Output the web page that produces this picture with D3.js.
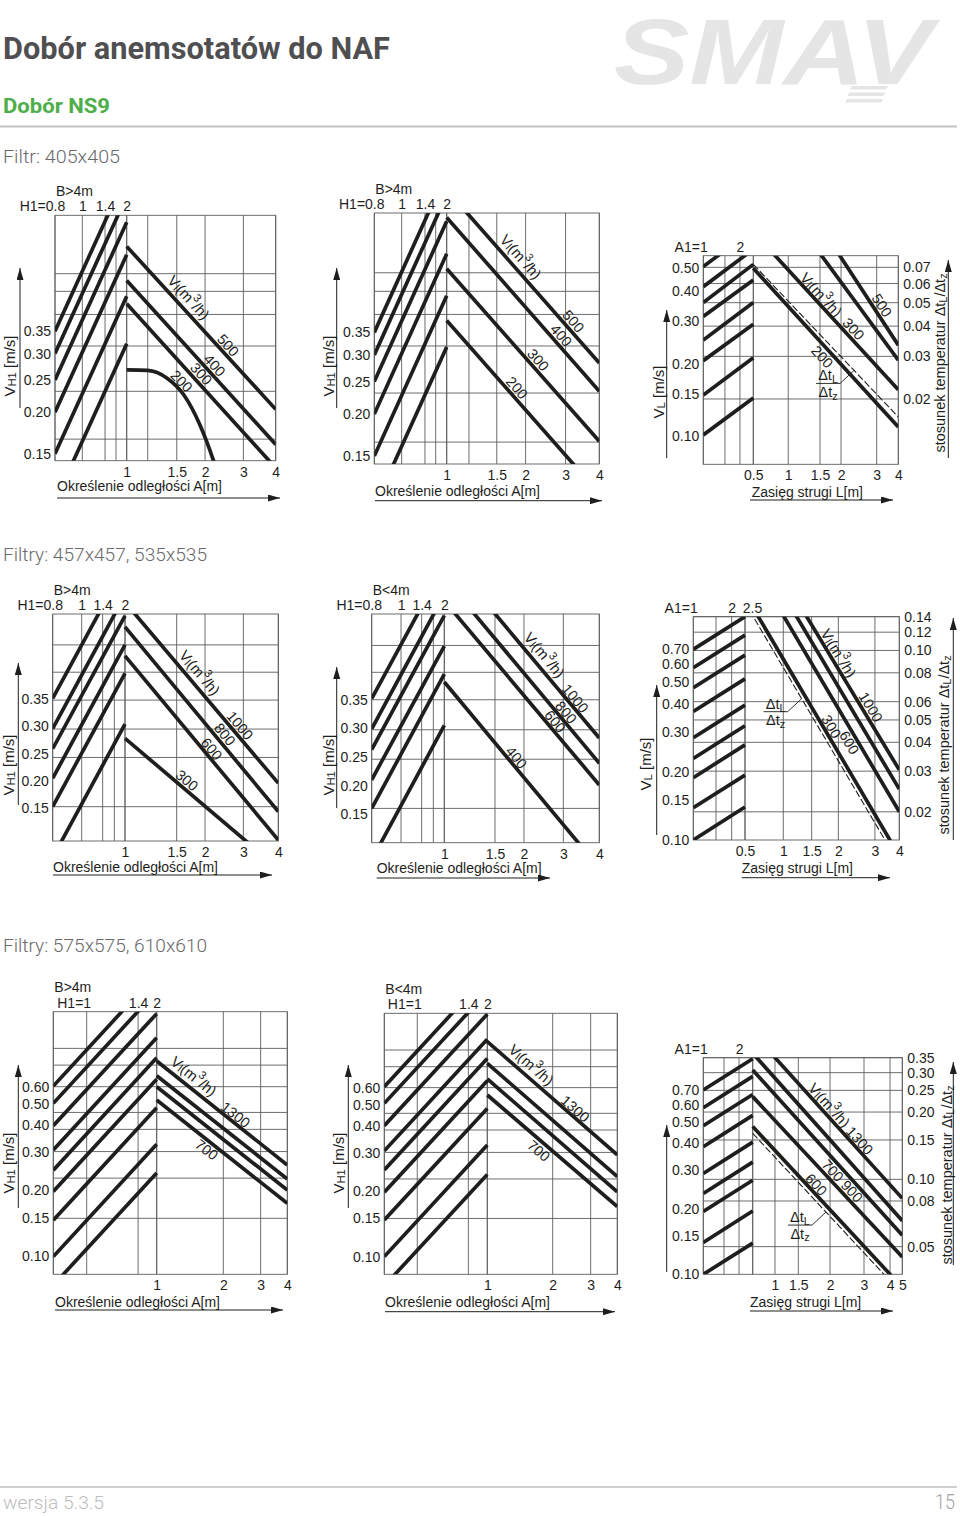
<!DOCTYPE html>
<html lang="pl"><head><meta charset="utf-8"><title>Dobór NS9</title>
<script src="https://cdn.jsdelivr.net/npm/d3@7/dist/d3.min.js"></script>
<style>html,body{margin:0;padding:0;background:#fff}svg{display:block}</style>
</head><body>
<svg id="page" width="960" height="1516" viewBox="0 0 960 1516"></svg>
<script>
// ================= DATA =================
// ---- Panel 1 : Filtr 405x405, B>4m
const p1H1Grid = [0.8, 1, 1.4, 1.7, 2];
const p1H1Labels = [0.8, 1, 1.4, 2];
const p1AGrid = [1, 1.2, 1.5, 2, 3, 4];
const p1ALabels = [1, 1.5, 2, 3, 4];
const p1VTicks = [0.35, 0.30, 0.25, 0.20, 0.15];
const p1VGrid = [0.521, 0.461, 0.393, 0.316, 0.231, 0.166];
const p1H1Start = [0.35, 0.30, 0.25, 0.20, 0.15, 0.108];
const p1H1End = [1.04, 0.891, 0.743, 0.594, 0.446, 0.321];
const p1Flow = ["500", "400", "300"];
const p1FlowAt1 = [0.629, 0.497, 0.423];
const p1FlowAt4 = [0.204, 0.160, 0.136];
const p1CurveFlow = "200";
const p1CurveA = [1, 1.2, 1.4, 1.62, 1.91, 2.22, 2.30];
const p1CurveV = [0.268, 0.267, 0.253, 0.226, 0.183, 0.143, 0.134];

// ---- Panel 2 : Filtr 405x405, B>4m (second)
const p2H1Grid = [0.8, 1, 1.4, 1.7, 2];
const p2H1Labels = [0.8, 1, 1.4, 2];
const p2AGrid = [1, 1.2, 1.5, 2, 3, 4];
const p2ALabels = [1, 1.5, 2, 3, 4];
const p2VTicks = [0.35, 0.30, 0.25, 0.20, 0.15];
const p2VGrid = [0.527, 0.464, 0.396, 0.319, 0.231, 0.165];
const p2H1Start = [0.35, 0.30, 0.25, 0.20, 0.15, 0.106];
const p2H1End = [1.05, 0.90, 0.75, 0.60, 0.45, 0.317];
const p2Flow = ["500", "400", "300", "200"];
const p2FlowAt1 = [0.93, 0.77, 0.542, 0.38];
const p2FlowAt4 = [0.284, 0.234, 0.166, 0.116];

// ---- Panel 3 : Filtr 405x405, range L
const p3A1Grid = [1, 1.5, 2, 2.5];
const p3A1Labels = [1, 2];
const p3LGrid = [0.5, 1, 1.5, 2, 3, 4];
const p3LLabels = [0.5, 1, 1.5, 2, 3, 4];
const p3VTicks = [0.50, 0.40, 0.30, 0.20, 0.15, 0.10];
const p3RatioTicks = [0.07, 0.06, 0.05, 0.04, 0.03, 0.02];
const p3A1Start = [0.508, 0.419, 0.360, 0.315, 0.251, 0.206, 0.148, 0.101];
const p3A1End = [0.727, 0.600, 0.519, 0.447, 0.360, 0.292, 0.212, 0.144];
const p3Flow = ["200", "300", "400", "500"];
const p3FlowAtStart = [0.50, 0.709, 1.377, 2.01];
const p3FlowAtEnd = [0.109, 0.156, 0.207, 0.239];
const p3DtStart = 0.519, p3DtEnd = 0.120;

// ---- Panel 4 : Filtry 457x457, 535x535, B>4m
const p4H1Grid = [0.8, 1, 1.4, 1.7, 2];
const p4H1Labels = [0.8, 1, 1.4, 2];
const p4AGrid = [1, 1.5, 2, 3, 4];
const p4ALabels = [1, 1.5, 2, 3, 4];
const p4VTicks = [0.35, 0.30, 0.25, 0.20, 0.15];
const p4VGrid = [0.449, 0.399, 0.348, 0.295, 0.243, 0.153];
const p4H1Start = [0.351, 0.296, 0.259, 0.205, 0.153, 0.060];
const p4H1End = [0.595, 0.540, 0.502, 0.449, 0.397, 0.304];
const p4Flow = ["1000", "800", "600", "300"];
const p4FlowAt1 = [0.527, 0.482, 0.429, 0.278];
const p4FlowAt4 = [0.196, 0.144, 0.092, 0.040];

// ---- Panel 5 : Filtry 457x457, 535x535, B<4m
const p5H1Grid = [0.8, 1, 1.4, 1.7, 2];
const p5H1Labels = [0.8, 1, 1.4, 2];
const p5AGrid = [1, 1.5, 2, 3, 4];
const p5ALabels = [1, 1.5, 2, 3, 4];
const p5VTicks = [0.35, 0.30, 0.25, 0.20, 0.15];
const p5VGrid = [0.445, 0.398, 0.350, 0.2975, 0.246, 0.160];
const p5H1Start = [0.352, 0.299, 0.263, 0.210, 0.160, 0.070];
const p5H1End = [0.586, 0.534, 0.497, 0.444, 0.395, 0.305];
const p5Flow = ["1000", "800", "600", "400"];
const p5FlowAt1 = [0.606, 0.563, 0.523, 0.381];
const p5FlowAt4 = [0.283, 0.239, 0.201, 0.056];

// ---- Panel 6 : Filtry 457x457, 535x535, range L
const p6A1Grid = [1, 1.5, 2, 2.5];
const p6A1Labels = [1, 2, 2.5];
const p6LGrid = [0.5, 1, 1.5, 2, 3, 4];
const p6LLabels = [0.5, 1, 1.5, 2, 3, 4];
const p6VTicks = [0.70, 0.60, 0.50, 0.40, 0.30, 0.20, 0.15, 0.10];
const p6RatioTicks = [0.14, 0.12, 0.10, 0.08, 0.06, 0.05, 0.04, 0.03, 0.02];
const p6A1Start = [0.700, 0.580, 0.473, 0.371, 0.284, 0.230, 0.189, 0.139, 0.100];
const p6A1End = [0.977, 0.810, 0.660, 0.518, 0.396, 0.321, 0.264, 0.194, 0.140];
const p6Flow = ["300", "600", "800", "1000"];
const p6FlowAtStart = [1.23, 1.916, 2.37, 2.77];
const p6FlowAtEnd = [0.085, 0.1335, 0.168, 0.2045];
const p6DtStart = 1.128, p6DtEnd = 0.078;

// ---- Panel 7 : Filtry 575x575, 610x610, B>4m
const p7H1Grid = [0.8, 1, 1.4, 2];
const p7H1Labels = [1, 1.4, 2];
const p7AGrid = [1, 2, 3, 4];
const p7ALabels = [1, 2, 3, 4];
const p7VTicks = [0.60, 0.50, 0.40, 0.30, 0.20, 0.15, 0.10];
const p7VGrid = [0.900, 0.754, 0.600, 0.457, 0.382, 0.302, 0.228, 0.149];
const p7H1Start = [0.604, 0.503, 0.397, 0.307, 0.248, 0.198, 0.146, 0.0994, 0.0734];
const p7H1End = [1.983, 1.650, 1.300, 1.007, 0.815, 0.649, 0.480, 0.326, 0.241];
const p7Flow = ["1300", "1100", "900", "700"];
const p7FlowAt1 = [0.787, 0.674, 0.600, 0.521];
const p7FlowAt4 = [0.262, 0.226, 0.201, 0.1746];

// ---- Panel 8 : Filtry 575x575, 610x610, B<4m
const p8H1Grid = [0.8, 1, 1.4, 2];
const p8H1Labels = [1, 1.4, 2];
const p8AGrid = [1, 2, 3, 4];
const p8ALabels = [1, 2, 3, 4];
const p8VTicks = [0.60, 0.50, 0.40, 0.30, 0.20, 0.15, 0.10];
const p8VGrid = [0.894, 0.749, 0.600, 0.457, 0.383, 0.302, 0.228, 0.150];
const p8H1Start = [0.606, 0.508, 0.401, 0.307, 0.251, 0.198, 0.1476, 0.1002, 0.0734];
const p8H1End = [1.976, 1.656, 1.307, 1.001, 0.818, 0.645, 0.481, 0.327, 0.239];
const p8Flow = ["1300", "1100", "900", "700"];
const p8FlowAt1 = [0.977, 0.776, 0.658, 0.555];
const p8FlowAt4 = [0.294, 0.234, 0.199, 0.170];

// ---- Panel 9 : Filtry 575x575, 610x610, range L
const p9A1Grid = [1, 1.5, 2, 2.5];
const p9A1Labels = [1, 2];
const p9LGrid = [0.5, 1, 1.5, 2, 3, 4, 5];
const p9LLabels = [1, 1.5, 2, 3, 4, 5];
const p9VTicks = [0.70, 0.60, 0.50, 0.40, 0.30, 0.20, 0.15, 0.10];
const p9RatioTicks = [0.35, 0.30, 0.25, 0.20, 0.15, 0.10, 0.08, 0.05];
const p9A1Start = [0.700, 0.581, 0.480, 0.385, 0.290, 0.235, 0.194, 0.140, 0.100];
const p9A1End = [0.974, 0.809, 0.668, 0.536, 0.404, 0.327, 0.270, 0.195, 0.139];
const p9Flow = ["600", "700", "900", "1100", "1300"];
const p9FlowAtStart = [0.476, 0.653, 0.866, 1.033, 1.279];
const p9FlowAtEnd = [0.087, 0.120, 0.151, 0.176, 0.223];
const p9DtStart = 0.443, p9DtEnd = 0.0812;

// ================= LAYOUT (pixel geometry, separate from data) =================
const LAYOUT = {
  p1: {box:[55,215.3,275.7,460.7], split:126.7, leftFr:[0,0.381,0.698,0.851,1], rightFr:[0,0.141,0.336,0.526,0.783,1],
       yTitle:[9,366], yArrow:[20,408,268], xTitle:[57,491], xArrow:[498,57,280],
       labels:[{line:0,t:0.36,d:12,vl:true},{line:0,t:0.64,d:8},{line:1,t:0.55,d:8},{line:2,t:0.46,d:8},{curve:true,t:0.33,d:8}]},
  p2: {box:[374.3,213,599.3,464], split:446.7, leftFr:[0,0.378,0.700,0.848,1], rightFr:[0,0.146,0.328,0.517,0.779,1],
       yTitle:[328.3,366], yArrow:[336.7,408,268], xTitle:[375,496], xArrow:[500.7,375,602],
       labels:[{line:0,t:0.43,d:12,vl:true},{line:0,t:0.79,d:8},{line:1,t:0.71,d:8},{line:2,t:0.56,d:8},{line:3,t:0.42,d:8}]},
  p3: {box:[703.3,255.7,898.3,464.3], split:753.3, leftFr:[0,0.433,0.733,1], rightFr:[0,0.241,0.460,0.605,0.851,1],
       yTitle:[658.3,392], yArrow:[666.7,458,310], ratioTitle:[940,363], ratioArrow:[948.3,458,260],
       xTitle:[751.7,497], xArrow:[500,750,893], frac:0.695,
       labels:[{line:1,t:0.43,d:8,vl:true},{line:1,t:0.65,d:8},{line:3,t:0.84,d:8},{line:0,t:0.52,d:-9}]},
  p4: {box:[52.7,614,278.3,841], split:125, leftFr:[0,0.401,0.691,0.853,1], rightFr:[0,0.337,0.522,0.772,1],
       yTitle:[8,765], yArrow:[18.3,805,663], xTitle:[53,871.7], xArrow:[875,53,272],
       labels:[{line:0,t:0.43,d:12,vl:true},{line:0,t:0.71,d:8},{line:1,t:0.61,d:8},{line:2,t:0.53,d:7},{line:3,t:0.37,d:8}]},
  p5: {box:[371.7,614,599.3,842.7], split:444.3, leftFr:[0,0.404,0.688,0.849,1], rightFr:[0,0.327,0.514,0.768,1],
       yTitle:[328.3,765], yArrow:[336.7,808,667], xTitle:[376.7,873], xArrow:[878,376.7,550],
       labels:[{line:0,t:0.59,d:12,vl:true},{line:0,t:0.81,d:7},{line:1,t:0.75,d:7},{line:2,t:0.68,d:7},{line:3,t:0.43,d:7}]},
  p6: {box:[693.3,616.7,899.3,840], split:745, leftFr:[0,0.439,0.742,1], rightFr:[0,0.248,0.432,0.605,0.842,1],
       yTitle:[645,764], yArrow:[656.7,835,685], ratioTitle:[944,745], ratioArrow:[953.3,840,618],
       xTitle:[741.7,873.3], xArrow:[877.7,741.7,890], frac:0.367, topLastDx:7,
       labels:[{line:3,t:0.56,d:9,vl:true},{line:3,t:0.77,d:8},{line:0,t:0.52,d:7},{line:1,t:0.72,d:-8}]},
  p7: {box:[53.3,1011.7,287.3,1274.3], split:156.7, leftFr:[0,0.323,0.82,1], rightFr:[0,0.510,0.796,1],
       yTitle:[8.3,1163], yArrow:[18.3,1208,1065], xTitle:[55,1306.7], xArrow:[1310,55,283],
       labels:[{line:0,t:0.23,d:12,vl:true},{line:0,t:0.57,d:7},{line:3,t:0.42,d:-8}]},
  p8: {box:[384.3,1013.3,617.3,1274.3], split:487.3, leftFr:[0,0.320,0.816,1], rightFr:[0,0.503,0.795,1],
       yTitle:[338.3,1163], yArrow:[348.3,1208,1065], xTitle:[385,1307], xArrow:[1311.7,385,615],
       labels:[{line:0,t:0.28,d:12,vl:true},{line:0,t:0.64,d:7},{line:3,t:0.44,d:-9}]},
  p9: {box:[703.3,1057.7,902.3,1274.3], split:752.7, leftFr:[0,0.419,0.723,1], rightFr:[0,0.149,0.305,0.517,0.744,0.918,1],
       yTitle:null, yArrow:[666.7,1272,1125], ratioTitle:[946.7,1175], ratioArrow:[953.3,1265,1062],
       xTitle:[750,1306.7], xArrow:[1311,750,893], frac:0.49,
       labels:[{line:4,t:0.47,d:9,vl:true},{line:4,t:0.68,d:7},{line:1,t:0.56,d:8,text:"700  900"},{line:0,t:0.39,d:7}]}
};

const panels = [
  {id:1, yLog:true, yDomain:[0.143,0.78], top:"B>4m", prefix:"H1=", yKind:"H1", xName:"Określenie odległości A[m]",
   leftAxis:p1H1Grid, leftLabels:p1H1Labels, rightAxis:p1AGrid, rightLabels:p1ALabels, yTicks:p1VTicks, yGrid:p1VGrid,
   leftStart:p1H1Start, leftEnd:p1H1End, flow:p1Flow, flowStart:p1FlowAt1, flowEnd:p1FlowAt4,
   curve:{name:p1CurveFlow, x:p1CurveA, v:p1CurveV}, ...LAYOUT.p1},
  {id:2, yLog:true, yDomain:[0.142,0.794], top:"B>4m", prefix:"H1=", yKind:"H1", xName:"Określenie odległości A[m]",
   leftAxis:p2H1Grid, leftLabels:p2H1Labels, rightAxis:p2AGrid, rightLabels:p2ALabels, yTicks:p2VTicks, yGrid:p2VGrid,
   leftStart:p2H1Start, leftEnd:p2H1End, flow:p2Flow, flowStart:p2FlowAt1, flowEnd:p2FlowAt4, ...LAYOUT.p2},
  {id:3, yLog:true, yDomain:[0.0762,0.564], ratioDomain:[0.01074,0.0782], top:null, prefix:"A1=", yKind:"L", xName:"Zasięg strugi L[m]",
   leftAxis:p3A1Grid, leftLabels:p3A1Labels, rightAxis:p3LGrid, rightLabels:p3LLabels, yTicks:p3VTicks, ratioTicks:p3RatioTicks,
   leftStart:p3A1Start, leftEnd:p3A1End, flow:p3Flow, flowStart:p3FlowAtStart, flowEnd:p3FlowAtEnd,
   dt:[p3DtStart,p3DtEnd], ...LAYOUT.p3},
  {id:4, yLog:false, yDomain:[0.0902,0.5055], top:"B>4m", prefix:"H1=", yKind:"H1", xName:"Określenie odległości A[m]",
   leftAxis:p4H1Grid, leftLabels:p4H1Labels, rightAxis:p4AGrid, rightLabels:p4ALabels, yTicks:p4VTicks, yGrid:p4VGrid,
   leftStart:p4H1Start, leftEnd:p4H1End, flow:p4Flow, flowStart:p4FlowAt1, flowEnd:p4FlowAt4, ...LAYOUT.p4},
  {id:5, yLog:false, yDomain:[0.100,0.500], top:"B<4m", prefix:"H1=", yKind:"H1", xName:"Określenie odległości A[m]",
   leftAxis:p5H1Grid, leftLabels:p5H1Labels, rightAxis:p5AGrid, rightLabels:p5ALabels, yTicks:p5VTicks, yGrid:p5VGrid,
   leftStart:p5H1Start, leftEnd:p5H1End, flow:p5Flow, flowStart:p5FlowAt1, flowEnd:p5FlowAt4, ...LAYOUT.p5},
  {id:6, yLog:true, yDomain:[0.1,0.977], ratioDomain:[0.0151,0.14], top:null, prefix:"A1=", yKind:"L", xName:"Zasięg strugi L[m]",
   leftAxis:p6A1Grid, leftLabels:p6A1Labels, rightAxis:p6LGrid, rightLabels:p6LLabels, yTicks:p6VTicks, ratioTicks:p6RatioTicks,
   leftStart:p6A1Start, leftEnd:p6A1End, flow:p6Flow, flowStart:p6FlowAtStart, flowEnd:p6FlowAtEnd,
   dt:[p6DtStart,p6DtEnd], ...LAYOUT.p6},
  {id:7, yLog:true, yDomain:[0.0824,1.327], top:"B>4m", prefix:"H1=", yKind:"H1", xName:"Określenie odległości A[m]",
   leftAxis:p7H1Grid, leftLabels:p7H1Labels, rightAxis:p7AGrid, rightLabels:p7ALabels, yTicks:p7VTicks, yGrid:p7VGrid,
   leftStart:p7H1Start, leftEnd:p7H1End, flow:p7Flow, flowStart:p7FlowAt1, flowEnd:p7FlowAt4, ...LAYOUT.p7},
  {id:8, yLog:true, yDomain:[0.083,1.319], top:"B<4m", prefix:"H1=", yKind:"H1", xName:"Określenie odległości A[m]",
   leftAxis:p8H1Grid, leftLabels:p8H1Labels, rightAxis:p8AGrid, rightLabels:p8ALabels, yTicks:p8VTicks, yGrid:p8VGrid,
   leftStart:p8H1Start, leftEnd:p8H1End, flow:p8Flow, flowStart:p8FlowAt1, flowEnd:p8FlowAt4, ...LAYOUT.p8},
  {id:9, yLog:true, yDomain:[0.1,0.985], ratioDomain:[0.0376,0.35], top:null, prefix:"A1=", yKind:"L", xName:"Zasięg strugi L[m]",
   leftAxis:p9A1Grid, leftLabels:p9A1Labels, rightAxis:p9LGrid, rightLabels:p9LLabels, yTicks:p9VTicks, ratioTicks:p9RatioTicks,
   leftStart:p9A1Start, leftEnd:p9A1End, flow:p9Flow, flowStart:p9FlowAtStart, flowEnd:p9FlowAtEnd,
   dt:[p9DtStart,p9DtEnd], ...LAYOUT.p9}
];

// ================= RENDERING =================
const FONT = "'Liberation Sans', Arial, Helvetica, sans-serif";
const HFONT = "Roboto, 'Open Sans', 'Liberation Sans', sans-serif";
const INK = "#1e1e1c";
const GRID = "#5e5e5e";
const TICK = 14;
const LBL = 14.5;

const svg = d3.select("#page");
const defs = svg.append("defs");
defs.append("marker").attr("id","arrowHead").attr("viewBox","0 0 12 7").attr("refX",12).attr("refY",3.5)
  .attr("markerWidth",12).attr("markerHeight",7).attr("markerUnits","userSpaceOnUse").attr("orient","auto")
  .append("path").attr("d","M0,0L12,3.5L0,7Z").attr("fill",INK);

const VL_PARTS = [{t:"V"},{t:"l",s:"sub"},{t:"(m"},{t:"3",s:"sup"},{t:"/h)"}];
const VH1_PARTS = [{t:"V"},{t:"H1",s:"sub"},{t:" [m/s]"}];
const VLAX_PARTS = [{t:"V"},{t:"L",s:"sub"},{t:" [m/s]"}];
const RATIO_PARTS = [{t:"stosunek temperatur Δt"},{t:"L",s:"sub"},{t:"/Δt"},{t:"z",s:"sub"}];

function rich(text, parts, size){
  let cur = 0;
  parts.forEach(p => {
    const off = p.s === "sub" ? size*0.2 : p.s === "sup" ? -size*0.38 : 0;
    text.append("tspan").attr("dy", (off-cur).toFixed(2)).attr("font-size", p.s ? size*0.75 : size).text(p.t);
    cur = off;
  });
}
function styleAxis(sel, size){
  sel.select(".domain").remove();
  sel.attr("font-family", FONT).attr("font-size", size);
  sel.selectAll("text").attr("fill", INK);
}
function arrow(g, x1, y1, x2, y2){
  g.append("line").attr("x1",x1).attr("y1",y1).attr("x2",x2).attr("y2",y2)
    .attr("stroke",INK).attr("stroke-width",1).attr("marker-end","url(#arrowHead)");
}

function drawPanel(c){
  const [x0,y0,x1,y1] = c.box;
  const g = svg.append("g").attr("font-family",FONT).attr("fill",INK);
  const xl = d3.scaleLinear().domain(c.leftAxis).range(c.leftFr.map(f => x0 + f*(c.split-x0)));
  const xr = d3.scaleLinear().domain(c.rightAxis).range(c.rightFr.map(f => c.split + f*(x1-c.split)));
  const y = (c.yLog ? d3.scaleLog() : d3.scaleLinear()).domain(c.yDomain).range([y1,y0]);
  const ry = c.ratioDomain ? d3.scaleLog().domain(c.ratioDomain).range([y1,y0]) : null;

  const cid = "clip" + c.id;
  defs.append("clipPath").attr("id",cid).append("rect")
    .attr("x",x0).attr("y",y0).attr("width",x1-x0).attr("height",y1-y0);

  // grid
  const gg = g.append("g").attr("stroke",GRID).attr("stroke-width",0.9).attr("fill","none");
  const vxs = [...c.leftAxis.map(v => xl(v)), ...c.rightAxis.map(v => xr(v))];
  gg.selectAll(null).data(vxs).join("line")
    .attr("x1",d=>d).attr("x2",d=>d).attr("y1",y0).attr("y2",y1);
  const hys = ry ? c.ratioTicks.map(v => ry(v)) : c.yGrid.map(v => y(v));
  gg.selectAll(null).data(hys).join("line")
    .attr("x1",x0).attr("x2",x1).attr("y1",d=>d).attr("y2",d=>d);
  gg.append("rect").attr("x",x0).attr("y",y0).attr("width",x1-x0).attr("height",y1-y0);

  // thick lines
  const la = c.leftAxis, ra = c.rightAxis;
  const lx0 = xl(la[0]), lx1 = xl(la[la.length-1]);
  const rx0 = xr(ra[0]), rx1 = xr(ra[ra.length-1]);
  const leftSegs = c.leftStart.map((v,i) => [[lx0, y(v)], [lx1, y(c.leftEnd[i])]]);
  const rightSegs = c.flowStart.map((v,i) => [[rx0, y(v)], [rx1, y(c.flowEnd[i])]]);
  const lg = g.append("g").attr("clip-path",`url(#${cid})`).attr("fill","none").attr("stroke",INK);
  lg.selectAll(null).data(leftSegs.concat(rightSegs)).join("path")
    .attr("d", d3.line()).attr("stroke-width",3.7);
  let dtSeg = null;
  if (c.dt){
    dtSeg = [[rx0, y(c.dt[0])], [rx1, y(c.dt[1])]];
    lg.append("path").attr("d", d3.line()(dtSeg)).attr("stroke-width",1.1).attr("stroke-dasharray","7,2.5");
  }
  let curvePts = null;
  if (c.curve){
    curvePts = c.curve.x.map((a,i) => [xr(a), y(c.curve.v[i])]);
    lg.append("path").attr("d", d3.line().curve(d3.curveMonotoneX)(curvePts)).attr("stroke-width",3.7);
  }

  // point on polyline at parameter t of the right region
  function at(pts, t){
    const xt = c.split + t*(x1 - c.split);
    for (let i=0;i<pts.length-1;i++){
      const [ax,ay] = pts[i], [bx,by] = pts[i+1];
      if ((xt >= ax && xt <= bx) || i === pts.length-2){
        const f = (xt-ax)/(bx-ax);
        return {x:xt, y:ay + f*(by-ay), a:Math.atan2(by-ay, bx-ax)};
      }
    }
  }

  // line labels
  c.labels.forEach(L => {
    const pts = L.curve ? curvePts : rightSegs[L.line];
    const p = at(pts, L.t);
    const cx = p.x + L.d*Math.sin(p.a), cy = p.y - L.d*Math.cos(p.a);
    const tx = g.append("text").attr("transform",`translate(${cx.toFixed(1)},${cy.toFixed(1)}) rotate(${(p.a*180/Math.PI).toFixed(1)})`)
      .attr("text-anchor","middle").attr("dominant-baseline","central").attr("font-size",LBL);
    if (L.vl) rich(tx, VL_PARTS, 15);
    else tx.text(L.text || (L.curve ? c.curve.name : c.flow[L.line]));
  });

  // Δt fraction with leader
  if (c.frac !== undefined && dtSeg){
    const p = at(dtSeg, c.frac);
    const bx = p.x - 14, by = p.y + 13;
    const fg = g.append("g");
    fg.append("line").attr("x1",bx).attr("y1",by).attr("x2",p.x).attr("y2",p.y).attr("stroke",INK).attr("stroke-width",0.9);
    fg.append("line").attr("x1",bx-24).attr("y1",by).attr("x2",bx).attr("y2",by).attr("stroke",INK).attr("stroke-width",0.9);
    const t1 = fg.append("text").attr("x",bx-12).attr("y",by-3).attr("text-anchor","middle").attr("font-size",LBL);
    rich(t1, [{t:"Δt"},{t:"L",s:"sub"}], LBL);
    const t2 = fg.append("text").attr("x",bx-12).attr("y",by+13.5).attr("text-anchor","middle").attr("font-size",LBL);
    rich(t2, [{t:"Δt"},{t:"z",s:"sub"}], LBL);
  }

  // axes
  const fmt2 = d3.format(".2f");
  const axL = g.append("g").attr("transform",`translate(${x0},0)`)
    .call(d3.axisLeft(y).tickValues(c.yTicks).tickSize(0).tickPadding(4).tickFormat(fmt2));
  styleAxis(axL, TICK);

  const axT = g.append("g").attr("transform",`translate(0,${y0})`)
    .call(d3.axisTop(xl).tickValues(c.leftLabels).tickSize(0).tickPadding(4).tickFormat(d => String(d)));
  styleAxis(axT, TICK);
  const ttexts = axT.selectAll(".tick text");
  const first = d3.select(ttexts.nodes()[0]);
  const w = first.node().getComputedTextLength();
  first.attr("text-anchor","end").attr("x", w/2).text(c.prefix + first.text());
  if (c.topLastDx){
    d3.select(ttexts.nodes()[ttexts.size()-1]).attr("x", c.topLastDx);
  }

  if (c.top){
    g.append("text").attr("x",x0+1).attr("y",y0-19.5).attr("font-size",TICK).text(c.top);
  }

  const axB = g.append("g").attr("transform",`translate(0,${y1})`)
    .call(d3.axisBottom(xr).tickValues(c.rightLabels).tickSize(0).tickPadding(6).tickFormat(d => String(d)));
  styleAxis(axB, TICK);

  if (ry){
    const axR = g.append("g").attr("transform",`translate(${x1},0)`)
      .call(d3.axisRight(ry).tickValues(c.ratioTicks).tickSize(0).tickPadding(5).tickFormat(fmt2));
    styleAxis(axR, TICK);
    const rt = g.append("text").attr("transform",`translate(${c.ratioTitle[0]},${c.ratioTitle[1]}) rotate(-90)`)
      .attr("text-anchor","middle").attr("dominant-baseline","central").attr("font-size",14.5);
    rich(rt, RATIO_PARTS, 14.5);
    arrow(g, c.ratioArrow[0], c.ratioArrow[1], c.ratioArrow[0], c.ratioArrow[2]);
  }

  // axis titles and arrows
  g.append("text").attr("x",c.xTitle[0]).attr("y",c.xTitle[1]).attr("font-size",14).text(c.xName);
  arrow(g, c.xArrow[1], c.xArrow[0], c.xArrow[2], c.xArrow[0]);
  if (c.yTitle){
    const yt = g.append("text").attr("transform",`translate(${c.yTitle[0]},${c.yTitle[1]}) rotate(-90)`)
      .attr("text-anchor","middle").attr("dominant-baseline","central").attr("font-size",15);
    rich(yt, c.yKind === "H1" ? VH1_PARTS : VLAX_PARTS, 15);
  }
  arrow(g, c.yArrow[0], c.yArrow[1], c.yArrow[0], c.yArrow[2]);
}

// ---------- page header ----------
const head = svg.append("g");
head.append("text").attr("x",614).attr("y",84).attr("font-family",FONT).attr("font-weight",700)
  .attr("font-style","italic").attr("font-size",92).attr("fill","#e5e5e6")
  .attr("textLength",318).attr("lengthAdjust","spacingAndGlyphs").text("SMAV");
[0,1,2].forEach(i => head.append("path")
  .attr("d",`M${852-i*2.5},${86+i*6.5}h36l-2,3.5h-36z`).attr("fill","#e5e5e6"));
head.append("text").attr("x",3).attr("y",59).attr("font-family",HFONT).attr("font-weight",700)
  .attr("font-size",31).attr("fill","#4f4f51").attr("textLength",387).attr("lengthAdjust","spacingAndGlyphs")
  .text("Dobór anemsotatów do NAF");
head.append("text").attr("x",3).attr("y",113).attr("font-family",HFONT).attr("font-weight",700)
  .attr("font-size",21).attr("fill","#4fae4a").attr("textLength",107).attr("lengthAdjust","spacingAndGlyphs")
  .text("Dobór NS9");
head.append("line").attr("x1",0).attr("x2",957).attr("y1",126.5).attr("y2",126.5).attr("stroke","#c4c4c4").attr("stroke-width",2);

const sections = [["Filtr: 405x405",163,117],["Filtry: 457x457, 535x535",561,204],["Filtry: 575x575, 610x610",952,204]];
sections.forEach(s => head.append("text").attr("x",3).attr("y",s[1]).attr("font-family",HFONT).attr("font-weight",300)
  .attr("font-size",19).attr("fill","#6a6a6c").attr("textLength",s[2]).attr("lengthAdjust","spacingAndGlyphs").text(s[0]));

// ---------- charts ----------
panels.forEach(drawPanel);

// ---------- footer ----------
svg.append("line").attr("x1",0).attr("x2",957).attr("y1",1487).attr("y2",1487).attr("stroke","#cfcfcf").attr("stroke-width",2);
svg.append("text").attr("x",3).attr("y",1509).attr("font-family",HFONT).attr("font-weight",300).attr("font-size",19)
  .attr("fill","#bdbdbd").attr("textLength",101).attr("lengthAdjust","spacingAndGlyphs").text("wersja 5.3.5");
svg.append("text").attr("x",935).attr("y",1509).attr("font-family",HFONT).attr("font-weight",300)
  .attr("font-size",20).attr("fill","#a3a3a3").attr("textLength",20).attr("lengthAdjust","spacingAndGlyphs").text("15");
</script>
</body></html>
